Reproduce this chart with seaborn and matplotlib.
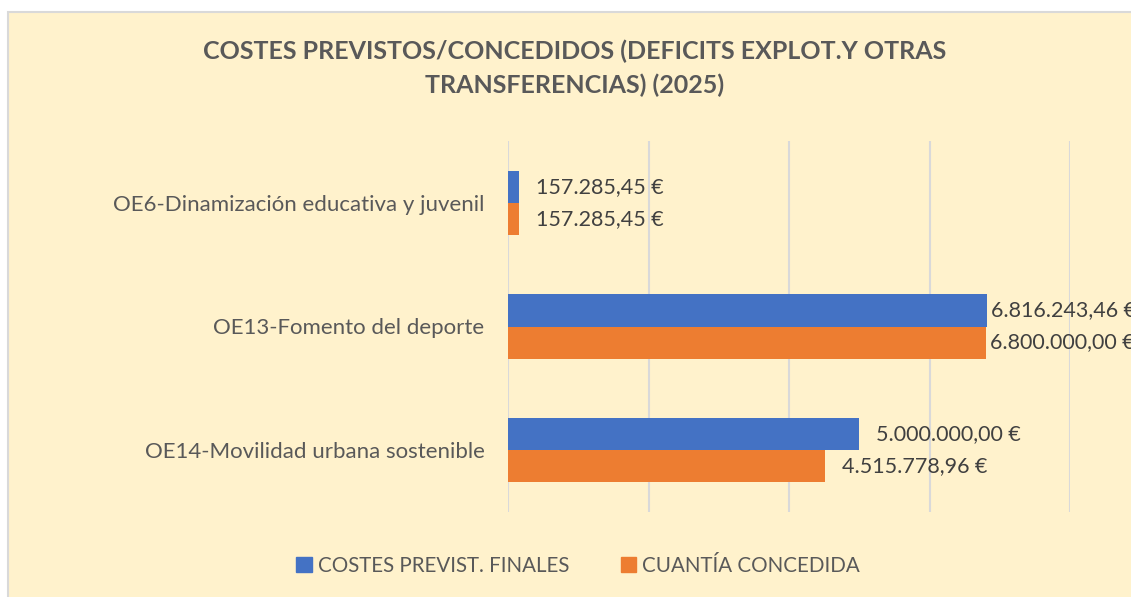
import matplotlib
matplotlib.use("Agg")
import matplotlib.pyplot as plt
import matplotlib.patches as mpatches
import seaborn as sns
import pandas as pd

categories = ["OE6-Dinamización educativa y juvenil",
              "OE13-Fomento del deporte",
              "OE14-Movilidad urbana sostenible"]
series_names = ["COSTES PREVIST. FINALES", "CUANTÍA CONCEDIDA"]
costes_previstos = [157285.45, 6816243.46, 5000000.00]
cuantia_concedida = [157285.45, 6800000.00, 4515778.96]
title = "COSTES PREVISTOS/CONCEDIDOS (DEFICITS EXPLOT.Y OTRAS\nTRANSFERENCIAS) (2025)"

df = pd.DataFrame({
    "cat": categories * 2,
    "serie": [series_names[0]] * 3 + [series_names[1]] * 3,
    "valor": costes_previstos + cuantia_concedida,
})

BG = "#FFF2CC"
TXT = "#595959"
colors = ["#4472C4", "#ED7D31"]

sns.set_theme(style="white")
plt.rcParams["font.family"] = ["Lato", "DejaVu Sans"]

W, H = 1131, 597
fig = plt.figure(figsize=(W / 100, H / 100), dpi=100, facecolor="white")
fig.patches.append(mpatches.Rectangle((8 / W, -0.01), 1.02, 1 - 12 / H + 0.01,
                                      transform=fig.transFigure, facecolor=BG,
                                      edgecolor="#D9D9D9", linewidth=1.5, zorder=-10))
ax = fig.add_axes([508 / W, 1 - 512 / H, (1070 - 508) / W, (512 - 141) / H])
ax.set_zorder(1)
ax.set_facecolor(BG)

sns.barplot(data=df, y="cat", x="valor", hue="serie", hue_order=series_names,
            order=categories, palette=colors, width=0.52, orient="h",
            saturation=1, ax=ax, legend=False, zorder=3, linewidth=0)

ax.set_xlim(0, 8000000)
ax.set_ylim(2.5, -0.5)
ax.set_xticks([0, 2000000, 4000000, 6000000, 8000000])
ax.set_xticklabels([])
ax.tick_params(axis="x", length=0)
ax.tick_params(axis="y", length=0, pad=17, labelsize=16, labelcolor=TXT)
ax.grid(axis="x", color="#D9D9D9", linewidth=1.5, zorder=0)
ax.grid(axis="y", visible=False)
ax.set_axisbelow(True)
for s in ax.spines.values():
    s.set_visible(False)
ax.set_xlabel("")
ax.set_ylabel("")


def fmt(v):
    s = f"{v:,.2f}"
    s = s.replace(",", "X").replace(".", ",").replace("X", ".")
    return s + " €"


for cont in ax.containers:
    for bar in cont:
        v = bar.get_width()
        yc = bar.get_y() + bar.get_height() / 2
        off = 3 if v > 6000000 else 12
        ax.annotate(fmt(v), xy=(v, yc), xytext=(off, 0), textcoords="offset points",
                    ha="left", va="center", fontsize=15.5, color="#404040",
                    annotation_clip=False, clip_on=False)

fig.text(575 / W, 1 - 68 / H, title, ha="center", va="center", fontsize=18,
         fontweight="bold", color=TXT, linespacing=1.55)

handles = [mpatches.Patch(color=c, label=n) for c, n in zip(colors, series_names)]
fig.legend(handles=handles, loc="center", bbox_to_anchor=(578 / W, 1 - 566 / H), ncol=2,
           frameon=False, fontsize=14.8, labelcolor=TXT, handlelength=0.75,
           handleheight=0.75, handletextpad=0.3, columnspacing=2.5)

fig.savefig("out.png", dpi=100, facecolor="white")
